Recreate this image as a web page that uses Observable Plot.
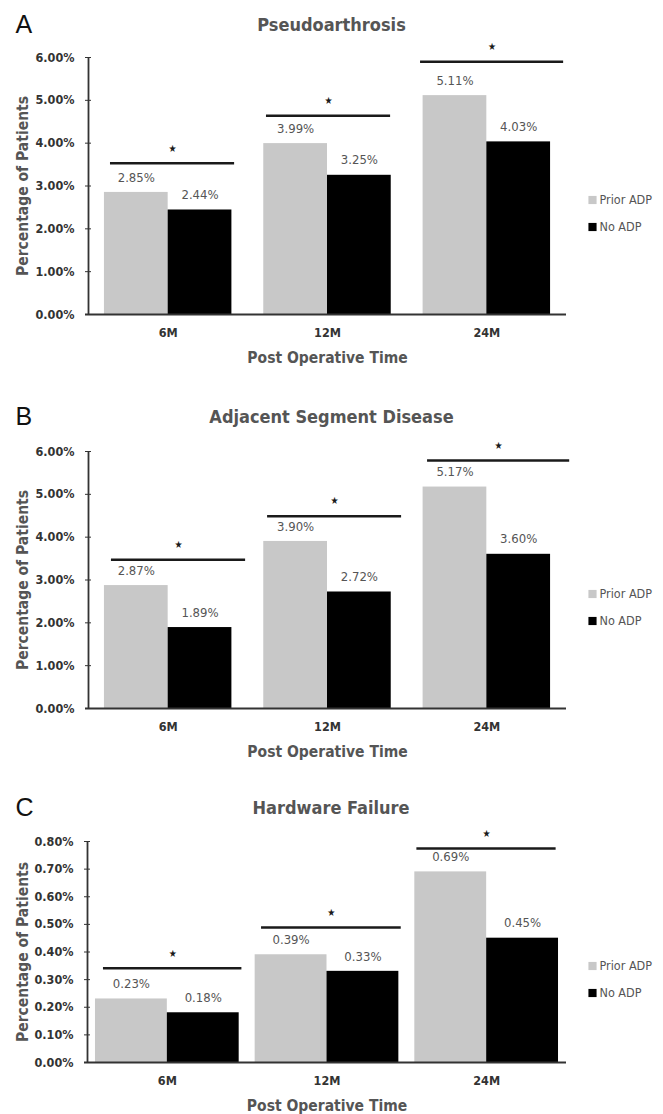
<!DOCTYPE html>
<html>
<head>
<meta charset="utf-8">
<script src="https://cdn.jsdelivr.net/npm/d3@7"></script>
<script src="https://cdn.jsdelivr.net/npm/@observablehq/plot@0.6"></script>
<style>
  html, body { margin: 0; padding: 0; background: #fff; }
  #chart svg { display: block; }
</style>
</head>
<body>
<div id="chart"></div>
<script>
// ---- data ----
const categories = ["6M", "12M", "24M"];
const groups = ["Prior ADP", "No ADP"];

const pseudoPrior = [2.85, 3.99, 5.11];
const pseudoNo = [2.44, 3.25, 4.03];
const pseudoSig = [3.53, 4.64, 5.90];

const asdPrior = [2.87, 3.90, 5.17];
const asdNo = [1.89, 2.72, 3.60];
const asdSig = [3.47, 4.49, 5.79];

const hwPrior = [0.23, 0.39, 0.69];
const hwNo = [0.18, 0.33, 0.45];
const hwSig = [0.341, 0.489, 0.775];

const ticksSix = [0, 1, 2, 3, 4, 5, 6];
const ticksEight = [0, 0.1, 0.2, 0.3, 0.4, 0.5, 0.6, 0.7, 0.8];

const titles = ["Pseudoarthrosis", "Adjacent Segment Disease", "Hardware Failure"];
const letters = ["A", "B", "C"];
const xTitle = "Post Operative Time";
const yTitle = "Percentage of Patients";

// ---- layout (annotation spans in category units) ----
const spansA = [[0.138, 0.917], [1.117, 1.896], [2.084, 2.982]];
const spansB = [[0.144, 0.986], [1.124, 1.965], [2.128, 3.02]];
const spansC = [[0.10, 0.967], [1.09, 1.965], [2.063, 2.935]];

const FONT = "'DejaVu Sans Condensed', 'Liberation Sans Narrow', 'Roboto', sans-serif";
const colors = ["#c8c8c8", "#000000"];

function panel({letter, title, prior, no, sig, spans, ticks, yMax, height, marginTop, marginLeft, barPad, frameH}) {
  const rows = [];
  categories.forEach((c, i) => {
    rows.push({cat: c, group: groups[0], value: prior[i], x1: i + barPad, x2: i + 0.5});
    rows.push({cat: c, group: groups[1], value: no[i], x1: i + 0.5, x2: i + 1 - barPad});
  });
  const sigRows = categories.map((c, i) => ({cat: c, y: sig[i], x1: spans[i][0], x2: spans[i][1]}));
  const fmt = d => d.toFixed(2) + "%";
  const titleDy = -(marginTop - 25);

  return Plot.plot({
    width: 663,
    height,
    marginTop,
    marginLeft,
    marginRight: 663 - 566,
    marginBottom: height - marginTop - frameH,
    style: {fontFamily: FONT, background: "#fff", overflow: "visible"},
    x: {domain: [0, 3]},
    y: {domain: [0, yMax]},
    color: {domain: groups, range: colors},
    marks: [
      Plot.rectY(rows, {x1: "x1", x2: "x2", y: "value", fill: "group"}),
      Plot.text(rows, {x: d => (d.x1 + d.x2) / 2, y: "value", text: d => fmt(d.value), dy: -15,
        fill: "#555", fontSize: 13}),
      Plot.ruleY(sigRows, {y: "y", x1: "x1", x2: "x2", stroke: "#1a1a1a", strokeWidth: 2.5}),
      Plot.text(sigRows, {x: d => (d.x1 + d.x2) / 2, y: "y", text: () => "★", dy: -15,
        fill: "#1a1a1a", fontSize: 10}),
      Plot.ruleX([0], {stroke: "#333", strokeWidth: 1.8}),
      Plot.ruleY([0], {stroke: "#333", strokeWidth: 1.8, insetLeft: -3}),
      Plot.axisY({ticks, tickFormat: fmt, tickSize: 6, dx: 3, tickPadding: 11,
        fontSize: 12.5, fontWeight: "bold", color: "#333", label: null}),
      Plot.axisX({ticks: [0.5, 1.5, 2.5], tickFormat: d => categories[Math.floor(d)],
        tickSize: 0, tickPadding: 14, fontSize: 12.5, fontWeight: "bold", color: "#333", label: null}),
      Plot.text([letter], {text: d => d, frameAnchor: "top-left", textAnchor: "start", lineAnchor: "middle",
        dx: 15 - marginLeft, dy: titleDy - 1, fontSize: 25, fill: "#111",
        fontFamily: "'Liberation Sans', Arial, sans-serif"}),
      Plot.text([title], {text: d => d, frameAnchor: "top", lineAnchor: "middle", textAnchor: "middle",
        dx: 4, dy: titleDy, fontSize: 18, fontWeight: "bold", fill: "#555"}),
      Plot.text([yTitle], {text: d => d, frameAnchor: "left", textAnchor: "middle", lineAnchor: "middle",
        dx: 23 - marginLeft, rotate: -90, fontSize: 15.5, fontWeight: "bold", fill: "#555"}),
      Plot.text([xTitle], {text: d => d, frameAnchor: "bottom", lineAnchor: "middle", textAnchor: "middle",
        dy: 43.5, fontSize: 15.5, fontWeight: "bold", fill: "#555"}),
      ...groups.map((g, k) => Plot.dot([g], {frameAnchor: "right", dx: 26, dy: 14 + 27 * k,
        symbol: "square", r: 4.6, fill: colors[k], stroke: "none"})),
      ...groups.map((g, k) => Plot.text([g], {text: d => d, frameAnchor: "right", textAnchor: "start",
        lineAnchor: "middle", dx: 33, dy: 14 + 27 * k, fontSize: 12.5, fill: "#555"}))
    ]
  });
}

const root = document.getElementById("chart");
root.appendChild(panel({letter: letters[0], title: titles[0], prior: pseudoPrior, no: pseudoNo, sig: pseudoSig,
  spans: spansA, ticks: ticksSix, yMax: 6, height: 392, marginTop: 57, marginLeft: 88, barPad: 0.1, frameH: 257}));
root.appendChild(panel({letter: letters[1], title: titles[1], prior: asdPrior, no: asdNo, sig: asdSig,
  spans: spansB, ticks: ticksSix, yMax: 6, height: 391, marginTop: 59, marginLeft: 88, barPad: 0.1, frameH: 257}));
root.appendChild(panel({letter: letters[2], title: titles[2], prior: hwPrior, no: hwNo, sig: hwSig,
  spans: spansC, ticks: ticksEight, yMax: 0.8, height: 331, marginTop: 58, marginLeft: 87, barPad: 0.05, frameH: 221}));
</script>
</body>
</html>
